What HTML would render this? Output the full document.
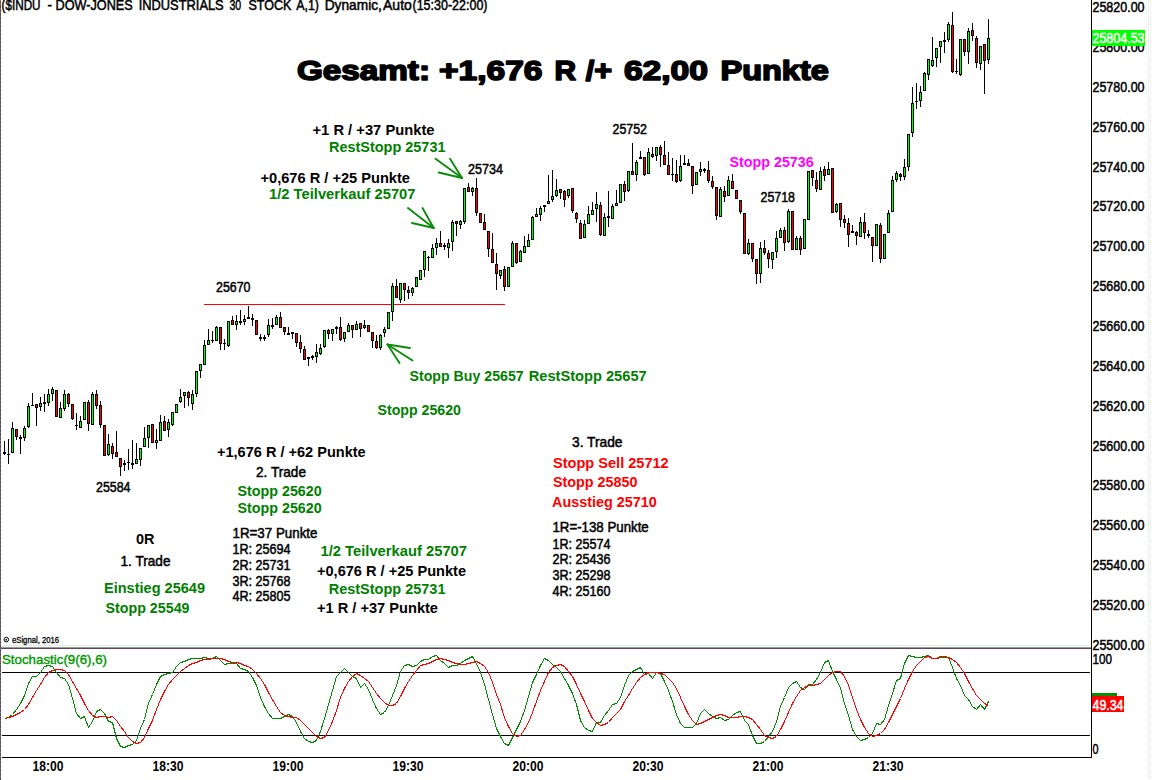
<!DOCTYPE html><html><head><meta charset="utf-8"><title>chart</title><style>
html,body{margin:0;padding:0;background:#fff;}body{width:1152px;height:780px;overflow:hidden;font-family:"Liberation Sans",sans-serif;}svg{display:block;}text{font-family:"Liberation Sans",sans-serif;}.b{font-weight:bold;font-size:15px;}.n{font-size:14.3px;stroke-width:0.5px;}.nb{font-weight:bold;font-size:15.5px;}</style></head><body>
<svg width="1152" height="780" viewBox="0 0 1152 780">
<rect width="1152" height="780" fill="#fff"/>
<g shape-rendering="crispEdges">
<rect x="0" y="0" width="1" height="780" fill="#5c4860"/><line x1="0.5" y1="0" x2="0.5" y2="780" stroke="#6a886a" stroke-width="1" stroke-dasharray="1,3"/>
<rect x="1" y="645" width="1088" height="1" fill="#e6e6e6"/><rect x="1" y="647" width="1090" height="1" fill="#90a090"/><rect x="1" y="648" width="1090" height="1" fill="#5c4460"/>
<rect x="1091" y="0" width="1" height="758" fill="#000"/>
<rect x="2" y="672" width="1088" height="1" fill="#000"/>
<rect x="2" y="735" width="1088" height="1" fill="#000"/>
<rect x="2" y="757" width="1090" height="1" fill="#000"/>
<rect x="204" y="304" width="301" height="1" fill="#ff0000"/>
<line x1="1148.5" y1="0" x2="1148.5" y2="780" stroke="#e2e2e6" stroke-width="1" stroke-dasharray="1,1"/>
<line x1="1150.5" y1="0" x2="1150.5" y2="780" stroke="#e6e6ea" stroke-width="1" stroke-dasharray="1,1"/>
<rect x="4" y="441" width="1" height="14" fill="#000"/>
<rect x="3" y="452" width="3" height="2" fill="#000"/>
<rect x="8" y="439" width="1" height="25" fill="#000"/>
<rect x="7" y="454" width="3" height="1" fill="#000"/>
<rect x="12" y="422" width="1" height="31" fill="#000"/>
<rect x="11" y="428" width="3" height="25" fill="#000"/>
<rect x="12" y="429" width="1" height="23" fill="#00ff00"/>
<rect x="16" y="429" width="1" height="11" fill="#000"/>
<rect x="15" y="429" width="3" height="8" fill="#000"/>
<rect x="16" y="430" width="1" height="6" fill="#ff0000"/>
<rect x="20" y="435" width="1" height="19" fill="#000"/>
<rect x="19" y="437" width="3" height="2" fill="#000"/>
<rect x="24" y="426" width="1" height="15" fill="#000"/>
<rect x="23" y="428" width="3" height="10" fill="#000"/>
<rect x="24" y="429" width="1" height="8" fill="#00ff00"/>
<rect x="28" y="403" width="1" height="25" fill="#000"/>
<rect x="27" y="406" width="3" height="21" fill="#000"/>
<rect x="28" y="407" width="1" height="19" fill="#00ff00"/>
<rect x="32" y="393" width="1" height="13" fill="#000"/>
<rect x="31" y="405" width="3" height="1" fill="#000"/>
<rect x="36" y="404" width="1" height="22" fill="#000"/>
<rect x="35" y="404" width="3" height="4" fill="#000"/>
<rect x="36" y="405" width="1" height="2" fill="#ff0000"/>
<rect x="40" y="397" width="1" height="14" fill="#000"/>
<rect x="39" y="403" width="3" height="4" fill="#000"/>
<rect x="40" y="404" width="1" height="2" fill="#00ff00"/>
<rect x="44" y="394" width="1" height="18" fill="#000"/>
<rect x="43" y="402" width="3" height="2" fill="#000"/>
<rect x="48" y="389" width="1" height="17" fill="#000"/>
<rect x="47" y="394" width="3" height="9" fill="#000"/>
<rect x="48" y="395" width="1" height="7" fill="#00ff00"/>
<rect x="52" y="387" width="1" height="14" fill="#000"/>
<rect x="51" y="389" width="3" height="5" fill="#000"/>
<rect x="52" y="390" width="1" height="3" fill="#00ff00"/>
<rect x="56" y="390" width="1" height="27" fill="#000"/>
<rect x="55" y="390" width="3" height="27" fill="#000"/>
<rect x="56" y="391" width="1" height="25" fill="#ff0000"/>
<rect x="60" y="402" width="1" height="16" fill="#000"/>
<rect x="59" y="408" width="3" height="10" fill="#000"/>
<rect x="60" y="409" width="1" height="8" fill="#00ff00"/>
<rect x="64" y="390" width="1" height="21" fill="#000"/>
<rect x="63" y="394" width="3" height="15" fill="#000"/>
<rect x="64" y="395" width="1" height="13" fill="#00ff00"/>
<rect x="68" y="393" width="1" height="14" fill="#000"/>
<rect x="67" y="394" width="3" height="10" fill="#000"/>
<rect x="68" y="395" width="1" height="8" fill="#ff0000"/>
<rect x="72" y="404" width="1" height="16" fill="#000"/>
<rect x="71" y="404" width="3" height="15" fill="#000"/>
<rect x="72" y="405" width="1" height="13" fill="#ff0000"/>
<rect x="76" y="413" width="1" height="17" fill="#000"/>
<rect x="75" y="425" width="3" height="1" fill="#000"/>
<rect x="80" y="416" width="1" height="12" fill="#000"/>
<rect x="79" y="421" width="3" height="7" fill="#000"/>
<rect x="80" y="422" width="1" height="5" fill="#00ff00"/>
<rect x="84" y="402" width="1" height="18" fill="#000"/>
<rect x="83" y="402" width="3" height="18" fill="#000"/>
<rect x="84" y="403" width="1" height="16" fill="#00ff00"/>
<rect x="88" y="400" width="1" height="31" fill="#000"/>
<rect x="87" y="402" width="3" height="22" fill="#000"/>
<rect x="88" y="403" width="1" height="20" fill="#ff0000"/>
<rect x="92" y="392" width="1" height="33" fill="#000"/>
<rect x="91" y="394" width="3" height="31" fill="#000"/>
<rect x="92" y="395" width="1" height="29" fill="#00ff00"/>
<rect x="96" y="390" width="1" height="19" fill="#000"/>
<rect x="95" y="394" width="3" height="12" fill="#000"/>
<rect x="96" y="395" width="1" height="10" fill="#ff0000"/>
<rect x="100" y="401" width="1" height="27" fill="#000"/>
<rect x="99" y="405" width="3" height="20" fill="#000"/>
<rect x="100" y="406" width="1" height="18" fill="#ff0000"/>
<rect x="104" y="425" width="1" height="31" fill="#000"/>
<rect x="103" y="425" width="3" height="31" fill="#000"/>
<rect x="104" y="426" width="1" height="29" fill="#ff0000"/>
<rect x="108" y="434" width="1" height="22" fill="#000"/>
<rect x="107" y="444" width="3" height="11" fill="#000"/>
<rect x="108" y="445" width="1" height="9" fill="#00ff00"/>
<rect x="112" y="443" width="1" height="16" fill="#000"/>
<rect x="111" y="446" width="3" height="8" fill="#000"/>
<rect x="112" y="447" width="1" height="6" fill="#ff0000"/>
<rect x="116" y="431" width="1" height="26" fill="#000"/>
<rect x="115" y="452" width="3" height="5" fill="#000"/>
<rect x="116" y="453" width="1" height="3" fill="#ff0000"/>
<rect x="120" y="458" width="1" height="18" fill="#000"/>
<rect x="119" y="458" width="3" height="9" fill="#000"/>
<rect x="120" y="459" width="1" height="7" fill="#ff0000"/>
<rect x="124" y="460" width="1" height="11" fill="#000"/>
<rect x="123" y="463" width="3" height="2" fill="#000"/>
<rect x="128" y="449" width="1" height="21" fill="#000"/>
<rect x="127" y="462" width="3" height="1" fill="#000"/>
<rect x="132" y="440" width="1" height="29" fill="#000"/>
<rect x="131" y="463" width="3" height="2" fill="#000"/>
<rect x="136" y="443" width="1" height="21" fill="#000"/>
<rect x="135" y="459" width="3" height="5" fill="#000"/>
<rect x="136" y="460" width="1" height="3" fill="#00ff00"/>
<rect x="140" y="448" width="1" height="18" fill="#000"/>
<rect x="139" y="448" width="3" height="12" fill="#000"/>
<rect x="140" y="449" width="1" height="10" fill="#00ff00"/>
<rect x="144" y="427" width="1" height="20" fill="#000"/>
<rect x="143" y="438" width="3" height="9" fill="#000"/>
<rect x="144" y="439" width="1" height="7" fill="#00ff00"/>
<rect x="148" y="425" width="1" height="23" fill="#000"/>
<rect x="147" y="425" width="3" height="13" fill="#000"/>
<rect x="148" y="426" width="1" height="11" fill="#00ff00"/>
<rect x="152" y="424" width="1" height="19" fill="#000"/>
<rect x="151" y="424" width="3" height="19" fill="#000"/>
<rect x="152" y="425" width="1" height="17" fill="#ff0000"/>
<rect x="156" y="429" width="1" height="20" fill="#000"/>
<rect x="155" y="440" width="3" height="3" fill="#000"/>
<rect x="156" y="441" width="1" height="1" fill="#00ff00"/>
<rect x="160" y="415" width="1" height="26" fill="#000"/>
<rect x="159" y="422" width="3" height="19" fill="#000"/>
<rect x="160" y="423" width="1" height="17" fill="#00ff00"/>
<rect x="164" y="416" width="1" height="15" fill="#000"/>
<rect x="163" y="421" width="3" height="10" fill="#000"/>
<rect x="164" y="422" width="1" height="8" fill="#ff0000"/>
<rect x="168" y="419" width="1" height="18" fill="#000"/>
<rect x="167" y="422" width="3" height="8" fill="#000"/>
<rect x="168" y="423" width="1" height="6" fill="#00ff00"/>
<rect x="172" y="412" width="1" height="14" fill="#000"/>
<rect x="171" y="412" width="3" height="13" fill="#000"/>
<rect x="172" y="413" width="1" height="11" fill="#00ff00"/>
<rect x="176" y="404" width="1" height="9" fill="#000"/>
<rect x="175" y="404" width="3" height="9" fill="#000"/>
<rect x="176" y="405" width="1" height="7" fill="#00ff00"/>
<rect x="180" y="389" width="1" height="14" fill="#000"/>
<rect x="179" y="397" width="3" height="5" fill="#000"/>
<rect x="180" y="398" width="1" height="3" fill="#00ff00"/>
<rect x="184" y="392" width="1" height="16" fill="#000"/>
<rect x="183" y="392" width="3" height="4" fill="#000"/>
<rect x="184" y="393" width="1" height="2" fill="#00ff00"/>
<rect x="188" y="391" width="1" height="15" fill="#000"/>
<rect x="187" y="392" width="3" height="6" fill="#000"/>
<rect x="188" y="393" width="1" height="4" fill="#ff0000"/>
<rect x="192" y="390" width="1" height="20" fill="#000"/>
<rect x="191" y="394" width="3" height="10" fill="#000"/>
<rect x="192" y="395" width="1" height="8" fill="#00ff00"/>
<rect x="196" y="371" width="1" height="26" fill="#000"/>
<rect x="195" y="371" width="3" height="23" fill="#000"/>
<rect x="196" y="372" width="1" height="21" fill="#00ff00"/>
<rect x="200" y="364" width="1" height="14" fill="#000"/>
<rect x="199" y="364" width="3" height="7" fill="#000"/>
<rect x="200" y="365" width="1" height="5" fill="#00ff00"/>
<rect x="204" y="340" width="1" height="25" fill="#000"/>
<rect x="203" y="345" width="3" height="20" fill="#000"/>
<rect x="204" y="346" width="1" height="18" fill="#00ff00"/>
<rect x="208" y="329" width="1" height="16" fill="#000"/>
<rect x="207" y="340" width="3" height="5" fill="#000"/>
<rect x="208" y="341" width="1" height="3" fill="#00ff00"/>
<rect x="212" y="331" width="1" height="12" fill="#000"/>
<rect x="211" y="340" width="3" height="1" fill="#000"/>
<rect x="216" y="326" width="1" height="15" fill="#000"/>
<rect x="215" y="327" width="3" height="14" fill="#000"/>
<rect x="216" y="328" width="1" height="12" fill="#00ff00"/>
<rect x="220" y="327" width="1" height="23" fill="#000"/>
<rect x="219" y="327" width="3" height="17" fill="#000"/>
<rect x="220" y="328" width="1" height="15" fill="#ff0000"/>
<rect x="224" y="339" width="1" height="11" fill="#000"/>
<rect x="223" y="343" width="3" height="1" fill="#000"/>
<rect x="228" y="321" width="1" height="26" fill="#000"/>
<rect x="227" y="321" width="3" height="25" fill="#000"/>
<rect x="228" y="322" width="1" height="23" fill="#00ff00"/>
<rect x="232" y="316" width="1" height="9" fill="#000"/>
<rect x="231" y="320" width="3" height="5" fill="#000"/>
<rect x="232" y="321" width="1" height="3" fill="#ff0000"/>
<rect x="236" y="315" width="1" height="15" fill="#000"/>
<rect x="235" y="321" width="3" height="4" fill="#000"/>
<rect x="236" y="322" width="1" height="2" fill="#00ff00"/>
<rect x="240" y="310" width="1" height="15" fill="#000"/>
<rect x="239" y="321" width="3" height="2" fill="#000"/>
<rect x="244" y="315" width="1" height="10" fill="#000"/>
<rect x="243" y="319" width="3" height="3" fill="#000"/>
<rect x="244" y="320" width="1" height="1" fill="#00ff00"/>
<rect x="248" y="306" width="1" height="13" fill="#000"/>
<rect x="247" y="317" width="3" height="2" fill="#000"/>
<rect x="252" y="314" width="1" height="12" fill="#000"/>
<rect x="251" y="318" width="3" height="2" fill="#000"/>
<rect x="256" y="320" width="1" height="15" fill="#000"/>
<rect x="255" y="320" width="3" height="15" fill="#000"/>
<rect x="256" y="321" width="1" height="13" fill="#ff0000"/>
<rect x="260" y="334" width="1" height="7" fill="#000"/>
<rect x="259" y="337" width="3" height="2" fill="#000"/>
<rect x="264" y="335" width="1" height="6" fill="#000"/>
<rect x="263" y="337" width="3" height="2" fill="#000"/>
<rect x="268" y="319" width="1" height="18" fill="#000"/>
<rect x="267" y="325" width="3" height="10" fill="#000"/>
<rect x="268" y="326" width="1" height="8" fill="#00ff00"/>
<rect x="272" y="318" width="1" height="11" fill="#000"/>
<rect x="271" y="325" width="3" height="2" fill="#000"/>
<rect x="276" y="315" width="1" height="10" fill="#000"/>
<rect x="275" y="317" width="3" height="8" fill="#000"/>
<rect x="276" y="318" width="1" height="6" fill="#00ff00"/>
<rect x="280" y="312" width="1" height="16" fill="#000"/>
<rect x="279" y="317" width="3" height="11" fill="#000"/>
<rect x="280" y="318" width="1" height="9" fill="#ff0000"/>
<rect x="284" y="327" width="1" height="8" fill="#000"/>
<rect x="283" y="327" width="3" height="5" fill="#000"/>
<rect x="284" y="328" width="1" height="3" fill="#ff0000"/>
<rect x="288" y="327" width="1" height="8" fill="#000"/>
<rect x="287" y="333" width="3" height="2" fill="#000"/>
<rect x="292" y="332" width="1" height="7" fill="#000"/>
<rect x="291" y="332" width="3" height="2" fill="#000"/>
<rect x="296" y="333" width="1" height="14" fill="#000"/>
<rect x="295" y="333" width="3" height="10" fill="#000"/>
<rect x="296" y="334" width="1" height="8" fill="#ff0000"/>
<rect x="300" y="335" width="1" height="18" fill="#000"/>
<rect x="299" y="342" width="3" height="7" fill="#000"/>
<rect x="300" y="343" width="1" height="5" fill="#ff0000"/>
<rect x="304" y="346" width="1" height="14" fill="#000"/>
<rect x="303" y="349" width="3" height="11" fill="#000"/>
<rect x="304" y="350" width="1" height="9" fill="#ff0000"/>
<rect x="308" y="357" width="1" height="9" fill="#000"/>
<rect x="307" y="357" width="3" height="2" fill="#000"/>
<rect x="312" y="355" width="1" height="5" fill="#000"/>
<rect x="311" y="356" width="3" height="2" fill="#000"/>
<rect x="316" y="344" width="1" height="19" fill="#000"/>
<rect x="315" y="352" width="3" height="5" fill="#000"/>
<rect x="316" y="353" width="1" height="3" fill="#00ff00"/>
<rect x="320" y="344" width="1" height="11" fill="#000"/>
<rect x="319" y="348" width="3" height="6" fill="#000"/>
<rect x="320" y="349" width="1" height="4" fill="#00ff00"/>
<rect x="324" y="330" width="1" height="18" fill="#000"/>
<rect x="323" y="330" width="3" height="17" fill="#000"/>
<rect x="324" y="331" width="1" height="15" fill="#00ff00"/>
<rect x="328" y="329" width="1" height="10" fill="#000"/>
<rect x="327" y="330" width="3" height="4" fill="#000"/>
<rect x="328" y="331" width="1" height="2" fill="#ff0000"/>
<rect x="332" y="329" width="1" height="12" fill="#000"/>
<rect x="331" y="329" width="3" height="5" fill="#000"/>
<rect x="332" y="330" width="1" height="3" fill="#00ff00"/>
<rect x="336" y="326" width="1" height="8" fill="#000"/>
<rect x="335" y="327" width="3" height="2" fill="#000"/>
<rect x="340" y="317" width="1" height="24" fill="#000"/>
<rect x="339" y="327" width="3" height="13" fill="#000"/>
<rect x="340" y="328" width="1" height="11" fill="#ff0000"/>
<rect x="344" y="332" width="1" height="10" fill="#000"/>
<rect x="343" y="332" width="3" height="7" fill="#000"/>
<rect x="344" y="333" width="1" height="5" fill="#00ff00"/>
<rect x="348" y="323" width="1" height="9" fill="#000"/>
<rect x="347" y="325" width="3" height="7" fill="#000"/>
<rect x="348" y="326" width="1" height="5" fill="#00ff00"/>
<rect x="352" y="325" width="1" height="13" fill="#000"/>
<rect x="351" y="325" width="3" height="5" fill="#000"/>
<rect x="352" y="326" width="1" height="3" fill="#ff0000"/>
<rect x="356" y="321" width="1" height="9" fill="#000"/>
<rect x="355" y="324" width="3" height="6" fill="#000"/>
<rect x="356" y="325" width="1" height="4" fill="#00ff00"/>
<rect x="360" y="323" width="1" height="14" fill="#000"/>
<rect x="359" y="323" width="3" height="6" fill="#000"/>
<rect x="360" y="324" width="1" height="4" fill="#ff0000"/>
<rect x="364" y="320" width="1" height="9" fill="#000"/>
<rect x="363" y="325" width="3" height="3" fill="#000"/>
<rect x="364" y="326" width="1" height="1" fill="#00ff00"/>
<rect x="368" y="325" width="1" height="7" fill="#000"/>
<rect x="367" y="325" width="3" height="7" fill="#000"/>
<rect x="368" y="326" width="1" height="5" fill="#ff0000"/>
<rect x="372" y="332" width="1" height="16" fill="#000"/>
<rect x="371" y="332" width="3" height="9" fill="#000"/>
<rect x="372" y="333" width="1" height="7" fill="#ff0000"/>
<rect x="376" y="335" width="1" height="14" fill="#000"/>
<rect x="375" y="341" width="3" height="7" fill="#000"/>
<rect x="376" y="342" width="1" height="5" fill="#ff0000"/>
<rect x="380" y="334" width="1" height="16" fill="#000"/>
<rect x="379" y="335" width="3" height="13" fill="#000"/>
<rect x="380" y="336" width="1" height="11" fill="#00ff00"/>
<rect x="384" y="327" width="1" height="10" fill="#000"/>
<rect x="383" y="329" width="3" height="4" fill="#000"/>
<rect x="384" y="330" width="1" height="2" fill="#00ff00"/>
<rect x="388" y="312" width="1" height="17" fill="#000"/>
<rect x="387" y="312" width="3" height="17" fill="#000"/>
<rect x="388" y="313" width="1" height="15" fill="#00ff00"/>
<rect x="392" y="283" width="1" height="38" fill="#000"/>
<rect x="391" y="286" width="3" height="26" fill="#000"/>
<rect x="392" y="287" width="1" height="24" fill="#00ff00"/>
<rect x="396" y="279" width="1" height="19" fill="#000"/>
<rect x="395" y="286" width="3" height="12" fill="#000"/>
<rect x="396" y="287" width="1" height="10" fill="#ff0000"/>
<rect x="400" y="283" width="1" height="20" fill="#000"/>
<rect x="399" y="283" width="3" height="17" fill="#000"/>
<rect x="400" y="284" width="1" height="15" fill="#00ff00"/>
<rect x="404" y="283" width="1" height="18" fill="#000"/>
<rect x="403" y="283" width="3" height="7" fill="#000"/>
<rect x="404" y="284" width="1" height="5" fill="#ff0000"/>
<rect x="408" y="286" width="1" height="13" fill="#000"/>
<rect x="407" y="290" width="3" height="3" fill="#000"/>
<rect x="408" y="291" width="1" height="1" fill="#ff0000"/>
<rect x="412" y="287" width="1" height="9" fill="#000"/>
<rect x="411" y="288" width="3" height="5" fill="#000"/>
<rect x="412" y="289" width="1" height="3" fill="#00ff00"/>
<rect x="416" y="277" width="1" height="10" fill="#000"/>
<rect x="415" y="277" width="3" height="10" fill="#000"/>
<rect x="416" y="278" width="1" height="8" fill="#00ff00"/>
<rect x="420" y="270" width="1" height="10" fill="#000"/>
<rect x="419" y="270" width="3" height="10" fill="#000"/>
<rect x="420" y="271" width="1" height="8" fill="#00ff00"/>
<rect x="424" y="251" width="1" height="26" fill="#000"/>
<rect x="423" y="251" width="3" height="19" fill="#000"/>
<rect x="424" y="252" width="1" height="17" fill="#00ff00"/>
<rect x="428" y="256" width="1" height="15" fill="#000"/>
<rect x="427" y="257" width="3" height="1" fill="#000"/>
<rect x="432" y="244" width="1" height="14" fill="#000"/>
<rect x="431" y="248" width="3" height="10" fill="#000"/>
<rect x="432" y="249" width="1" height="8" fill="#00ff00"/>
<rect x="436" y="238" width="1" height="17" fill="#000"/>
<rect x="435" y="243" width="3" height="5" fill="#000"/>
<rect x="436" y="244" width="1" height="3" fill="#00ff00"/>
<rect x="440" y="231" width="1" height="16" fill="#000"/>
<rect x="439" y="243" width="3" height="4" fill="#000"/>
<rect x="440" y="244" width="1" height="2" fill="#ff0000"/>
<rect x="444" y="243" width="1" height="7" fill="#000"/>
<rect x="443" y="245" width="3" height="2" fill="#000"/>
<rect x="448" y="239" width="1" height="19" fill="#000"/>
<rect x="447" y="243" width="3" height="5" fill="#000"/>
<rect x="448" y="244" width="1" height="3" fill="#00ff00"/>
<rect x="452" y="220" width="1" height="31" fill="#000"/>
<rect x="451" y="222" width="3" height="20" fill="#000"/>
<rect x="452" y="223" width="1" height="18" fill="#00ff00"/>
<rect x="456" y="221" width="1" height="15" fill="#000"/>
<rect x="455" y="221" width="3" height="3" fill="#000"/>
<rect x="456" y="222" width="1" height="1" fill="#ff0000"/>
<rect x="460" y="220" width="1" height="9" fill="#000"/>
<rect x="459" y="221" width="3" height="4" fill="#000"/>
<rect x="460" y="222" width="1" height="2" fill="#00ff00"/>
<rect x="464" y="188" width="1" height="36" fill="#000"/>
<rect x="463" y="188" width="3" height="34" fill="#000"/>
<rect x="464" y="189" width="1" height="32" fill="#00ff00"/>
<rect x="468" y="183" width="1" height="9" fill="#000"/>
<rect x="467" y="187" width="3" height="5" fill="#000"/>
<rect x="468" y="188" width="1" height="3" fill="#ff0000"/>
<rect x="472" y="187" width="1" height="9" fill="#000"/>
<rect x="471" y="188" width="3" height="4" fill="#000"/>
<rect x="472" y="189" width="1" height="2" fill="#00ff00"/>
<rect x="476" y="178" width="1" height="38" fill="#000"/>
<rect x="475" y="188" width="3" height="25" fill="#000"/>
<rect x="476" y="189" width="1" height="23" fill="#ff0000"/>
<rect x="480" y="213" width="1" height="10" fill="#000"/>
<rect x="479" y="213" width="3" height="10" fill="#000"/>
<rect x="480" y="214" width="1" height="8" fill="#ff0000"/>
<rect x="484" y="214" width="1" height="16" fill="#000"/>
<rect x="483" y="222" width="3" height="8" fill="#000"/>
<rect x="484" y="223" width="1" height="6" fill="#ff0000"/>
<rect x="488" y="231" width="1" height="26" fill="#000"/>
<rect x="487" y="231" width="3" height="18" fill="#000"/>
<rect x="488" y="232" width="1" height="16" fill="#ff0000"/>
<rect x="492" y="233" width="1" height="30" fill="#000"/>
<rect x="491" y="249" width="3" height="14" fill="#000"/>
<rect x="492" y="250" width="1" height="12" fill="#ff0000"/>
<rect x="496" y="253" width="1" height="37" fill="#000"/>
<rect x="495" y="264" width="3" height="10" fill="#000"/>
<rect x="496" y="265" width="1" height="8" fill="#ff0000"/>
<rect x="500" y="270" width="1" height="9" fill="#000"/>
<rect x="499" y="270" width="3" height="6" fill="#000"/>
<rect x="500" y="271" width="1" height="4" fill="#00ff00"/>
<rect x="504" y="266" width="1" height="25" fill="#000"/>
<rect x="503" y="269" width="3" height="18" fill="#000"/>
<rect x="504" y="270" width="1" height="16" fill="#ff0000"/>
<rect x="508" y="267" width="1" height="20" fill="#000"/>
<rect x="507" y="267" width="3" height="20" fill="#000"/>
<rect x="508" y="268" width="1" height="18" fill="#00ff00"/>
<rect x="512" y="241" width="1" height="26" fill="#000"/>
<rect x="511" y="243" width="3" height="24" fill="#000"/>
<rect x="512" y="244" width="1" height="22" fill="#00ff00"/>
<rect x="516" y="243" width="1" height="21" fill="#000"/>
<rect x="515" y="243" width="3" height="20" fill="#000"/>
<rect x="516" y="244" width="1" height="18" fill="#ff0000"/>
<rect x="520" y="250" width="1" height="12" fill="#000"/>
<rect x="519" y="251" width="3" height="11" fill="#000"/>
<rect x="520" y="252" width="1" height="9" fill="#00ff00"/>
<rect x="524" y="236" width="1" height="17" fill="#000"/>
<rect x="523" y="246" width="3" height="7" fill="#000"/>
<rect x="524" y="247" width="1" height="5" fill="#00ff00"/>
<rect x="528" y="234" width="1" height="13" fill="#000"/>
<rect x="527" y="240" width="3" height="7" fill="#000"/>
<rect x="528" y="241" width="1" height="5" fill="#00ff00"/>
<rect x="532" y="216" width="1" height="24" fill="#000"/>
<rect x="531" y="217" width="3" height="23" fill="#000"/>
<rect x="532" y="218" width="1" height="21" fill="#00ff00"/>
<rect x="536" y="208" width="1" height="9" fill="#000"/>
<rect x="535" y="214" width="3" height="3" fill="#000"/>
<rect x="536" y="215" width="1" height="1" fill="#00ff00"/>
<rect x="540" y="206" width="1" height="15" fill="#000"/>
<rect x="539" y="208" width="3" height="7" fill="#000"/>
<rect x="540" y="209" width="1" height="5" fill="#00ff00"/>
<rect x="544" y="205" width="1" height="7" fill="#000"/>
<rect x="543" y="205" width="3" height="2" fill="#000"/>
<rect x="548" y="175" width="1" height="29" fill="#000"/>
<rect x="547" y="201" width="3" height="3" fill="#000"/>
<rect x="548" y="202" width="1" height="1" fill="#00ff00"/>
<rect x="552" y="170" width="1" height="32" fill="#000"/>
<rect x="551" y="196" width="3" height="4" fill="#000"/>
<rect x="552" y="197" width="1" height="2" fill="#00ff00"/>
<rect x="556" y="179" width="1" height="18" fill="#000"/>
<rect x="555" y="190" width="3" height="6" fill="#000"/>
<rect x="556" y="191" width="1" height="4" fill="#00ff00"/>
<rect x="560" y="189" width="1" height="10" fill="#000"/>
<rect x="559" y="189" width="3" height="4" fill="#000"/>
<rect x="560" y="190" width="1" height="2" fill="#ff0000"/>
<rect x="564" y="190" width="1" height="17" fill="#000"/>
<rect x="563" y="191" width="3" height="9" fill="#000"/>
<rect x="564" y="192" width="1" height="7" fill="#ff0000"/>
<rect x="568" y="189" width="1" height="9" fill="#000"/>
<rect x="567" y="189" width="3" height="7" fill="#000"/>
<rect x="568" y="190" width="1" height="5" fill="#00ff00"/>
<rect x="572" y="188" width="1" height="25" fill="#000"/>
<rect x="571" y="188" width="3" height="23" fill="#000"/>
<rect x="572" y="189" width="1" height="21" fill="#ff0000"/>
<rect x="576" y="212" width="1" height="11" fill="#000"/>
<rect x="575" y="213" width="3" height="6" fill="#000"/>
<rect x="576" y="214" width="1" height="4" fill="#ff0000"/>
<rect x="580" y="220" width="1" height="19" fill="#000"/>
<rect x="579" y="223" width="3" height="16" fill="#000"/>
<rect x="580" y="224" width="1" height="14" fill="#ff0000"/>
<rect x="584" y="220" width="1" height="18" fill="#000"/>
<rect x="583" y="224" width="3" height="14" fill="#000"/>
<rect x="584" y="225" width="1" height="12" fill="#00ff00"/>
<rect x="588" y="206" width="1" height="18" fill="#000"/>
<rect x="587" y="214" width="3" height="10" fill="#000"/>
<rect x="588" y="215" width="1" height="8" fill="#00ff00"/>
<rect x="592" y="202" width="1" height="13" fill="#000"/>
<rect x="591" y="210" width="3" height="5" fill="#000"/>
<rect x="592" y="211" width="1" height="3" fill="#00ff00"/>
<rect x="596" y="192" width="1" height="30" fill="#000"/>
<rect x="595" y="204" width="3" height="5" fill="#000"/>
<rect x="596" y="205" width="1" height="3" fill="#00ff00"/>
<rect x="600" y="202" width="1" height="34" fill="#000"/>
<rect x="599" y="205" width="3" height="30" fill="#000"/>
<rect x="600" y="206" width="1" height="28" fill="#ff0000"/>
<rect x="604" y="213" width="1" height="23" fill="#000"/>
<rect x="603" y="217" width="3" height="19" fill="#000"/>
<rect x="604" y="218" width="1" height="17" fill="#00ff00"/>
<rect x="608" y="191" width="1" height="36" fill="#000"/>
<rect x="607" y="216" width="3" height="2" fill="#000"/>
<rect x="612" y="204" width="1" height="15" fill="#000"/>
<rect x="611" y="206" width="3" height="13" fill="#000"/>
<rect x="612" y="207" width="1" height="11" fill="#00ff00"/>
<rect x="616" y="190" width="1" height="16" fill="#000"/>
<rect x="615" y="203" width="3" height="3" fill="#000"/>
<rect x="616" y="204" width="1" height="1" fill="#00ff00"/>
<rect x="620" y="184" width="1" height="19" fill="#000"/>
<rect x="619" y="184" width="3" height="19" fill="#000"/>
<rect x="620" y="185" width="1" height="17" fill="#00ff00"/>
<rect x="624" y="181" width="1" height="20" fill="#000"/>
<rect x="623" y="184" width="3" height="8" fill="#000"/>
<rect x="624" y="185" width="1" height="6" fill="#ff0000"/>
<rect x="628" y="171" width="1" height="21" fill="#000"/>
<rect x="627" y="171" width="3" height="20" fill="#000"/>
<rect x="628" y="172" width="1" height="18" fill="#00ff00"/>
<rect x="632" y="143" width="1" height="32" fill="#000"/>
<rect x="631" y="171" width="3" height="4" fill="#000"/>
<rect x="632" y="172" width="1" height="2" fill="#ff0000"/>
<rect x="636" y="160" width="1" height="21" fill="#000"/>
<rect x="635" y="162" width="3" height="13" fill="#000"/>
<rect x="636" y="163" width="1" height="11" fill="#00ff00"/>
<rect x="640" y="151" width="1" height="8" fill="#000"/>
<rect x="639" y="157" width="3" height="2" fill="#000"/>
<rect x="644" y="157" width="1" height="19" fill="#000"/>
<rect x="643" y="157" width="3" height="18" fill="#000"/>
<rect x="644" y="158" width="1" height="16" fill="#ff0000"/>
<rect x="648" y="148" width="1" height="26" fill="#000"/>
<rect x="647" y="152" width="3" height="22" fill="#000"/>
<rect x="648" y="153" width="1" height="20" fill="#00ff00"/>
<rect x="652" y="147" width="1" height="11" fill="#000"/>
<rect x="651" y="154" width="3" height="3" fill="#000"/>
<rect x="652" y="155" width="1" height="1" fill="#ff0000"/>
<rect x="656" y="147" width="1" height="14" fill="#000"/>
<rect x="655" y="147" width="3" height="9" fill="#000"/>
<rect x="656" y="148" width="1" height="7" fill="#00ff00"/>
<rect x="660" y="145" width="1" height="22" fill="#000"/>
<rect x="659" y="147" width="3" height="8" fill="#000"/>
<rect x="660" y="148" width="1" height="6" fill="#ff0000"/>
<rect x="664" y="141" width="1" height="24" fill="#000"/>
<rect x="663" y="155" width="3" height="10" fill="#000"/>
<rect x="664" y="156" width="1" height="8" fill="#ff0000"/>
<rect x="668" y="152" width="1" height="23" fill="#000"/>
<rect x="667" y="165" width="3" height="10" fill="#000"/>
<rect x="668" y="166" width="1" height="8" fill="#ff0000"/>
<rect x="672" y="158" width="1" height="23" fill="#000"/>
<rect x="671" y="174" width="3" height="1" fill="#000"/>
<rect x="676" y="160" width="1" height="23" fill="#000"/>
<rect x="675" y="174" width="3" height="8" fill="#000"/>
<rect x="676" y="175" width="1" height="6" fill="#ff0000"/>
<rect x="680" y="155" width="1" height="27" fill="#000"/>
<rect x="679" y="166" width="3" height="15" fill="#000"/>
<rect x="680" y="167" width="1" height="13" fill="#00ff00"/>
<rect x="684" y="155" width="1" height="10" fill="#000"/>
<rect x="683" y="163" width="3" height="2" fill="#000"/>
<rect x="688" y="159" width="1" height="7" fill="#000"/>
<rect x="687" y="163" width="3" height="3" fill="#000"/>
<rect x="688" y="164" width="1" height="1" fill="#ff0000"/>
<rect x="692" y="166" width="1" height="28" fill="#000"/>
<rect x="691" y="166" width="3" height="20" fill="#000"/>
<rect x="692" y="167" width="1" height="18" fill="#ff0000"/>
<rect x="696" y="172" width="1" height="13" fill="#000"/>
<rect x="695" y="172" width="3" height="13" fill="#000"/>
<rect x="696" y="173" width="1" height="11" fill="#00ff00"/>
<rect x="700" y="162" width="1" height="14" fill="#000"/>
<rect x="699" y="169" width="3" height="3" fill="#000"/>
<rect x="700" y="170" width="1" height="1" fill="#00ff00"/>
<rect x="704" y="168" width="1" height="5" fill="#000"/>
<rect x="703" y="169" width="3" height="2" fill="#000"/>
<rect x="708" y="161" width="1" height="22" fill="#000"/>
<rect x="707" y="170" width="3" height="11" fill="#000"/>
<rect x="708" y="171" width="1" height="9" fill="#ff0000"/>
<rect x="712" y="176" width="1" height="13" fill="#000"/>
<rect x="711" y="181" width="3" height="6" fill="#000"/>
<rect x="712" y="182" width="1" height="4" fill="#ff0000"/>
<rect x="716" y="187" width="1" height="33" fill="#000"/>
<rect x="715" y="187" width="3" height="29" fill="#000"/>
<rect x="716" y="188" width="1" height="27" fill="#ff0000"/>
<rect x="720" y="187" width="1" height="30" fill="#000"/>
<rect x="719" y="189" width="3" height="28" fill="#000"/>
<rect x="720" y="190" width="1" height="26" fill="#00ff00"/>
<rect x="724" y="186" width="1" height="16" fill="#000"/>
<rect x="723" y="191" width="3" height="6" fill="#000"/>
<rect x="724" y="192" width="1" height="4" fill="#ff0000"/>
<rect x="728" y="176" width="1" height="20" fill="#000"/>
<rect x="727" y="180" width="3" height="16" fill="#000"/>
<rect x="728" y="181" width="1" height="14" fill="#00ff00"/>
<rect x="732" y="174" width="1" height="15" fill="#000"/>
<rect x="731" y="181" width="3" height="8" fill="#000"/>
<rect x="732" y="182" width="1" height="6" fill="#ff0000"/>
<rect x="736" y="190" width="1" height="9" fill="#000"/>
<rect x="735" y="190" width="3" height="9" fill="#000"/>
<rect x="736" y="191" width="1" height="7" fill="#ff0000"/>
<rect x="740" y="200" width="1" height="14" fill="#000"/>
<rect x="739" y="200" width="3" height="12" fill="#000"/>
<rect x="740" y="201" width="1" height="10" fill="#ff0000"/>
<rect x="744" y="213" width="1" height="41" fill="#000"/>
<rect x="743" y="213" width="3" height="41" fill="#000"/>
<rect x="744" y="214" width="1" height="39" fill="#ff0000"/>
<rect x="748" y="239" width="1" height="16" fill="#000"/>
<rect x="747" y="243" width="3" height="11" fill="#000"/>
<rect x="748" y="244" width="1" height="9" fill="#00ff00"/>
<rect x="752" y="243" width="1" height="19" fill="#000"/>
<rect x="751" y="243" width="3" height="16" fill="#000"/>
<rect x="752" y="244" width="1" height="14" fill="#ff0000"/>
<rect x="756" y="259" width="1" height="25" fill="#000"/>
<rect x="755" y="259" width="3" height="15" fill="#000"/>
<rect x="756" y="260" width="1" height="13" fill="#ff0000"/>
<rect x="760" y="242" width="1" height="41" fill="#000"/>
<rect x="759" y="248" width="3" height="26" fill="#000"/>
<rect x="760" y="249" width="1" height="24" fill="#00ff00"/>
<rect x="764" y="240" width="1" height="15" fill="#000"/>
<rect x="763" y="248" width="3" height="5" fill="#000"/>
<rect x="764" y="249" width="1" height="3" fill="#ff0000"/>
<rect x="768" y="250" width="1" height="18" fill="#000"/>
<rect x="767" y="253" width="3" height="6" fill="#000"/>
<rect x="768" y="254" width="1" height="4" fill="#ff0000"/>
<rect x="772" y="252" width="1" height="17" fill="#000"/>
<rect x="771" y="252" width="3" height="8" fill="#000"/>
<rect x="772" y="253" width="1" height="6" fill="#00ff00"/>
<rect x="776" y="231" width="1" height="27" fill="#000"/>
<rect x="775" y="238" width="3" height="14" fill="#000"/>
<rect x="776" y="239" width="1" height="12" fill="#00ff00"/>
<rect x="780" y="228" width="1" height="10" fill="#000"/>
<rect x="779" y="230" width="3" height="8" fill="#000"/>
<rect x="780" y="231" width="1" height="6" fill="#00ff00"/>
<rect x="784" y="227" width="1" height="24" fill="#000"/>
<rect x="783" y="230" width="3" height="13" fill="#000"/>
<rect x="784" y="231" width="1" height="11" fill="#ff0000"/>
<rect x="788" y="209" width="1" height="34" fill="#000"/>
<rect x="787" y="211" width="3" height="31" fill="#000"/>
<rect x="788" y="212" width="1" height="29" fill="#00ff00"/>
<rect x="792" y="211" width="1" height="39" fill="#000"/>
<rect x="791" y="211" width="3" height="39" fill="#000"/>
<rect x="792" y="212" width="1" height="37" fill="#ff0000"/>
<rect x="796" y="236" width="1" height="14" fill="#000"/>
<rect x="795" y="238" width="3" height="12" fill="#000"/>
<rect x="796" y="239" width="1" height="10" fill="#00ff00"/>
<rect x="800" y="236" width="1" height="19" fill="#000"/>
<rect x="799" y="238" width="3" height="12" fill="#000"/>
<rect x="800" y="239" width="1" height="10" fill="#ff0000"/>
<rect x="804" y="219" width="1" height="30" fill="#000"/>
<rect x="803" y="219" width="3" height="30" fill="#000"/>
<rect x="804" y="220" width="1" height="28" fill="#00ff00"/>
<rect x="808" y="171" width="1" height="49" fill="#000"/>
<rect x="807" y="171" width="3" height="49" fill="#000"/>
<rect x="808" y="172" width="1" height="47" fill="#00ff00"/>
<rect x="812" y="170" width="1" height="16" fill="#000"/>
<rect x="811" y="170" width="3" height="8" fill="#000"/>
<rect x="812" y="171" width="1" height="6" fill="#ff0000"/>
<rect x="816" y="172" width="1" height="20" fill="#000"/>
<rect x="815" y="180" width="3" height="9" fill="#000"/>
<rect x="816" y="181" width="1" height="7" fill="#ff0000"/>
<rect x="820" y="167" width="1" height="23" fill="#000"/>
<rect x="819" y="171" width="3" height="19" fill="#000"/>
<rect x="820" y="172" width="1" height="17" fill="#00ff00"/>
<rect x="824" y="166" width="1" height="15" fill="#000"/>
<rect x="823" y="169" width="3" height="7" fill="#000"/>
<rect x="824" y="170" width="1" height="5" fill="#ff0000"/>
<rect x="828" y="162" width="1" height="13" fill="#000"/>
<rect x="827" y="169" width="3" height="6" fill="#000"/>
<rect x="828" y="170" width="1" height="4" fill="#00ff00"/>
<rect x="832" y="168" width="1" height="45" fill="#000"/>
<rect x="831" y="168" width="3" height="45" fill="#000"/>
<rect x="832" y="169" width="1" height="43" fill="#ff0000"/>
<rect x="836" y="203" width="1" height="10" fill="#000"/>
<rect x="835" y="204" width="3" height="8" fill="#000"/>
<rect x="836" y="205" width="1" height="6" fill="#00ff00"/>
<rect x="840" y="203" width="1" height="24" fill="#000"/>
<rect x="839" y="203" width="3" height="17" fill="#000"/>
<rect x="840" y="204" width="1" height="15" fill="#ff0000"/>
<rect x="844" y="215" width="1" height="13" fill="#000"/>
<rect x="843" y="219" width="3" height="4" fill="#000"/>
<rect x="844" y="220" width="1" height="2" fill="#ff0000"/>
<rect x="848" y="218" width="1" height="29" fill="#000"/>
<rect x="847" y="223" width="3" height="12" fill="#000"/>
<rect x="848" y="224" width="1" height="10" fill="#ff0000"/>
<rect x="852" y="225" width="1" height="8" fill="#000"/>
<rect x="851" y="231" width="3" height="2" fill="#000"/>
<rect x="856" y="231" width="1" height="14" fill="#000"/>
<rect x="855" y="232" width="3" height="4" fill="#000"/>
<rect x="856" y="233" width="1" height="2" fill="#ff0000"/>
<rect x="860" y="217" width="1" height="20" fill="#000"/>
<rect x="859" y="222" width="3" height="15" fill="#000"/>
<rect x="860" y="223" width="1" height="13" fill="#00ff00"/>
<rect x="864" y="213" width="1" height="26" fill="#000"/>
<rect x="863" y="222" width="3" height="11" fill="#000"/>
<rect x="864" y="223" width="1" height="9" fill="#ff0000"/>
<rect x="868" y="230" width="1" height="8" fill="#000"/>
<rect x="867" y="234" width="3" height="2" fill="#000"/>
<rect x="872" y="237" width="1" height="25" fill="#000"/>
<rect x="871" y="237" width="3" height="9" fill="#000"/>
<rect x="872" y="238" width="1" height="7" fill="#ff0000"/>
<rect x="876" y="224" width="1" height="22" fill="#000"/>
<rect x="875" y="224" width="3" height="22" fill="#000"/>
<rect x="876" y="225" width="1" height="20" fill="#00ff00"/>
<rect x="880" y="223" width="1" height="40" fill="#000"/>
<rect x="879" y="225" width="3" height="34" fill="#000"/>
<rect x="880" y="226" width="1" height="32" fill="#ff0000"/>
<rect x="884" y="234" width="1" height="25" fill="#000"/>
<rect x="883" y="234" width="3" height="25" fill="#000"/>
<rect x="884" y="235" width="1" height="23" fill="#00ff00"/>
<rect x="888" y="210" width="1" height="23" fill="#000"/>
<rect x="887" y="213" width="3" height="20" fill="#000"/>
<rect x="888" y="214" width="1" height="18" fill="#00ff00"/>
<rect x="892" y="176" width="1" height="36" fill="#000"/>
<rect x="891" y="180" width="3" height="32" fill="#000"/>
<rect x="892" y="181" width="1" height="30" fill="#00ff00"/>
<rect x="896" y="171" width="1" height="11" fill="#000"/>
<rect x="895" y="173" width="3" height="7" fill="#000"/>
<rect x="896" y="174" width="1" height="5" fill="#00ff00"/>
<rect x="900" y="173" width="1" height="8" fill="#000"/>
<rect x="899" y="174" width="3" height="3" fill="#000"/>
<rect x="900" y="175" width="1" height="1" fill="#ff0000"/>
<rect x="904" y="159" width="1" height="21" fill="#000"/>
<rect x="903" y="167" width="3" height="10" fill="#000"/>
<rect x="904" y="168" width="1" height="8" fill="#00ff00"/>
<rect x="908" y="134" width="1" height="37" fill="#000"/>
<rect x="907" y="134" width="3" height="33" fill="#000"/>
<rect x="908" y="135" width="1" height="31" fill="#00ff00"/>
<rect x="912" y="87" width="1" height="50" fill="#000"/>
<rect x="911" y="103" width="3" height="30" fill="#000"/>
<rect x="912" y="104" width="1" height="28" fill="#00ff00"/>
<rect x="916" y="83" width="1" height="26" fill="#000"/>
<rect x="915" y="101" width="3" height="1" fill="#000"/>
<rect x="920" y="86" width="1" height="21" fill="#000"/>
<rect x="919" y="92" width="3" height="9" fill="#000"/>
<rect x="920" y="93" width="1" height="7" fill="#00ff00"/>
<rect x="924" y="72" width="1" height="19" fill="#000"/>
<rect x="923" y="73" width="3" height="18" fill="#000"/>
<rect x="924" y="74" width="1" height="16" fill="#00ff00"/>
<rect x="928" y="59" width="1" height="21" fill="#000"/>
<rect x="927" y="59" width="3" height="16" fill="#000"/>
<rect x="928" y="60" width="1" height="14" fill="#00ff00"/>
<rect x="932" y="37" width="1" height="30" fill="#000"/>
<rect x="931" y="60" width="3" height="6" fill="#000"/>
<rect x="932" y="61" width="1" height="4" fill="#00ff00"/>
<rect x="936" y="48" width="1" height="19" fill="#000"/>
<rect x="935" y="48" width="3" height="10" fill="#000"/>
<rect x="936" y="49" width="1" height="8" fill="#00ff00"/>
<rect x="940" y="41" width="1" height="22" fill="#000"/>
<rect x="939" y="41" width="3" height="6" fill="#000"/>
<rect x="940" y="42" width="1" height="4" fill="#00ff00"/>
<rect x="944" y="32" width="1" height="21" fill="#000"/>
<rect x="943" y="40" width="3" height="2" fill="#000"/>
<rect x="948" y="22" width="1" height="20" fill="#000"/>
<rect x="947" y="24" width="3" height="16" fill="#000"/>
<rect x="948" y="25" width="1" height="14" fill="#00ff00"/>
<rect x="952" y="12" width="1" height="61" fill="#000"/>
<rect x="951" y="25" width="3" height="47" fill="#000"/>
<rect x="952" y="26" width="1" height="45" fill="#ff0000"/>
<rect x="956" y="59" width="1" height="15" fill="#000"/>
<rect x="955" y="71" width="3" height="1" fill="#000"/>
<rect x="960" y="39" width="1" height="37" fill="#000"/>
<rect x="959" y="39" width="3" height="36" fill="#000"/>
<rect x="960" y="40" width="1" height="34" fill="#00ff00"/>
<rect x="964" y="39" width="1" height="17" fill="#000"/>
<rect x="963" y="39" width="3" height="13" fill="#000"/>
<rect x="964" y="40" width="1" height="11" fill="#ff0000"/>
<rect x="968" y="28" width="1" height="36" fill="#000"/>
<rect x="967" y="31" width="3" height="21" fill="#000"/>
<rect x="968" y="32" width="1" height="19" fill="#00ff00"/>
<rect x="972" y="23" width="1" height="18" fill="#000"/>
<rect x="971" y="30" width="3" height="6" fill="#000"/>
<rect x="972" y="31" width="1" height="4" fill="#ff0000"/>
<rect x="976" y="36" width="1" height="32" fill="#000"/>
<rect x="975" y="38" width="3" height="25" fill="#000"/>
<rect x="976" y="39" width="1" height="23" fill="#ff0000"/>
<rect x="980" y="46" width="1" height="24" fill="#000"/>
<rect x="979" y="46" width="3" height="18" fill="#000"/>
<rect x="980" y="47" width="1" height="16" fill="#00ff00"/>
<rect x="984" y="44" width="1" height="50" fill="#000"/>
<rect x="983" y="44" width="3" height="17" fill="#000"/>
<rect x="984" y="45" width="1" height="15" fill="#ff0000"/>
<rect x="988" y="19" width="1" height="45" fill="#000"/>
<rect x="987" y="38" width="3" height="22" fill="#000"/>
<rect x="988" y="39" width="1" height="20" fill="#00ff00"/>
</g>
<polyline fill="none" stroke="#008800" stroke-width="1" shape-rendering="crispEdges" points="5.5,717.5 8.5,717.5 12.5,714.5 16.5,709.5 20.5,703.5 24.5,695.5 28.5,683.5 32.5,676.5 36.5,676.5 40.5,672.5 44.5,666.5 48.5,665.5 52.5,666.5 56.5,672.5 60.5,677.5 64.5,678.5 68.5,684.5 72.5,698.5 76.5,713.5 80.5,718.5 84.5,716.5 88.5,727.5 92.5,721.5 96.5,711.5 100.5,709.5 104.5,713.5 108.5,721.5 112.5,722.5 116.5,738.5 120.5,746.5 124.5,747.5 128.5,745.5 132.5,744.5 136.5,740.5 140.5,728.5 144.5,719.5 148.5,703.5 152.5,694.5 156.5,684.5 160.5,676.5 164.5,674.5 168.5,673.5 172.5,672.5 176.5,666.5 180.5,662.5 184.5,661.5 188.5,659.5 192.5,658.5 196.5,658.5 200.5,658.5 204.5,657.5 208.5,658.5 212.5,658.5 216.5,656.5 220.5,660.5 224.5,664.5 228.5,663.5 232.5,663.5 236.5,663.5 240.5,668.5 244.5,669.5 248.5,671.5 252.5,677.5 256.5,685.5 260.5,697.5 264.5,706.5 268.5,713.5 272.5,718.5 276.5,718.5 280.5,718.5 284.5,716.5 288.5,714.5 292.5,716.5 296.5,722.5 300.5,731.5 304.5,738.5 308.5,741.5 312.5,742.5 316.5,740.5 320.5,731.5 324.5,718.5 328.5,704.5 332.5,690.5 336.5,676.5 340.5,672.5 344.5,668.5 348.5,672.5 352.5,676.5 356.5,678.5 360.5,687.5 364.5,683.5 368.5,689.5 372.5,699.5 376.5,708.5 380.5,714.5 384.5,712.5 388.5,705.5 392.5,695.5 396.5,685.5 400.5,671.5 404.5,665.5 408.5,664.5 412.5,666.5 416.5,665.5 420.5,661.5 424.5,659.5 428.5,659.5 432.5,656.5 436.5,655.5 440.5,660.5 444.5,663.5 448.5,667.5 452.5,665.5 456.5,665.5 460.5,663.5 464.5,660.5 468.5,658.5 472.5,656.5 476.5,663.5 480.5,672.5 484.5,684.5 488.5,699.5 492.5,714.5 496.5,728.5 500.5,736.5 504.5,743.5 508.5,745.5 512.5,737.5 516.5,729.5 520.5,721.5 524.5,710.5 528.5,696.5 532.5,682.5 536.5,674.5 540.5,665.5 544.5,658.5 548.5,660.5 552.5,664.5 556.5,667.5 560.5,671.5 564.5,678.5 568.5,685.5 572.5,693.5 576.5,704.5 580.5,720.5 584.5,727.5 588.5,730.5 592.5,731.5 596.5,722.5 600.5,722.5 604.5,715.5 608.5,710.5 612.5,704.5 616.5,703.5 620.5,697.5 624.5,685.5 628.5,675.5 632.5,671.5 636.5,669.5 640.5,667.5 644.5,674.5 648.5,673.5 652.5,678.5 656.5,672.5 660.5,673.5 664.5,681.5 668.5,690.5 672.5,701.5 676.5,714.5 680.5,723.5 684.5,727.5 688.5,727.5 692.5,727.5 696.5,723.5 700.5,713.5 704.5,709.5 708.5,713.5 712.5,716.5 716.5,718.5 720.5,717.5 724.5,720.5 728.5,719.5 732.5,715.5 736.5,712.5 740.5,711.5 744.5,720.5 748.5,724.5 752.5,735.5 756.5,743.5 760.5,743.5 764.5,741.5 768.5,736.5 772.5,731.5 776.5,721.5 780.5,706.5 784.5,697.5 788.5,687.5 792.5,683.5 796.5,681.5 800.5,687.5 804.5,689.5 808.5,684.5 812.5,684.5 816.5,679.5 820.5,672.5 824.5,662.5 828.5,660.5 832.5,671.5 836.5,679.5 840.5,688.5 844.5,703.5 848.5,715.5 852.5,729.5 856.5,736.5 860.5,740.5 864.5,739.5 868.5,737.5 872.5,733.5 876.5,723.5 880.5,724.5 884.5,719.5 888.5,705.5 892.5,693.5 896.5,680.5 900.5,678.5 904.5,663.5 908.5,655.5 912.5,656.5 916.5,657.5 920.5,657.5 924.5,656.5 928.5,655.5 932.5,658.5 936.5,658.5 940.5,656.5 944.5,656.5 948.5,657.5 952.5,667.5 956.5,678.5 960.5,685.5 964.5,695.5 968.5,699.5 972.5,706.5 976.5,709.5 980.5,704.5 984.5,709.5 988.5,701.5"/>
<polyline fill="none" stroke="#ff0000" stroke-width="1" shape-rendering="crispEdges" points="5.5,718.5 8.5,717.5 12.5,716.5 16.5,714.5 20.5,712.5 24.5,709.5 28.5,704.5 32.5,697.5 36.5,690.5 40.5,684.5 44.5,677.5 48.5,672.5 52.5,670.5 56.5,669.5 60.5,669.5 64.5,670.5 68.5,674.5 72.5,681.5 76.5,688.5 80.5,695.5 84.5,703.5 88.5,710.5 92.5,715.5 96.5,717.5 100.5,716.5 104.5,716.5 108.5,717.5 112.5,716.5 116.5,720.5 120.5,726.5 124.5,731.5 128.5,737.5 132.5,741.5 136.5,743.5 140.5,742.5 144.5,737.5 148.5,728.5 152.5,720.5 156.5,709.5 160.5,699.5 164.5,691.5 168.5,684.5 172.5,679.5 176.5,675.5 180.5,671.5 184.5,668.5 188.5,665.5 192.5,663.5 196.5,662.5 200.5,660.5 204.5,659.5 208.5,659.5 212.5,658.5 216.5,658.5 220.5,658.5 224.5,659.5 228.5,661.5 232.5,662.5 236.5,662.5 240.5,663.5 244.5,665.5 248.5,666.5 252.5,669.5 256.5,673.5 260.5,678.5 264.5,684.5 268.5,692.5 272.5,699.5 276.5,706.5 280.5,712.5 284.5,715.5 288.5,716.5 292.5,717.5 296.5,717.5 300.5,720.5 304.5,724.5 308.5,728.5 312.5,732.5 316.5,736.5 320.5,738.5 324.5,737.5 328.5,730.5 332.5,721.5 336.5,710.5 340.5,697.5 344.5,688.5 348.5,681.5 352.5,676.5 356.5,673.5 360.5,675.5 364.5,678.5 368.5,681.5 372.5,687.5 376.5,693.5 380.5,698.5 384.5,702.5 388.5,705.5 392.5,705.5 396.5,703.5 400.5,696.5 404.5,688.5 408.5,681.5 412.5,675.5 416.5,670.5 420.5,665.5 424.5,664.5 428.5,663.5 432.5,661.5 436.5,659.5 440.5,658.5 444.5,659.5 448.5,660.5 452.5,662.5 456.5,663.5 460.5,664.5 464.5,664.5 468.5,663.5 472.5,662.5 476.5,661.5 480.5,663.5 484.5,666.5 488.5,672.5 492.5,682.5 496.5,694.5 500.5,704.5 504.5,717.5 508.5,726.5 512.5,733.5 516.5,736.5 520.5,735.5 524.5,729.5 528.5,722.5 532.5,712.5 536.5,701.5 540.5,690.5 544.5,681.5 548.5,672.5 552.5,667.5 556.5,665.5 560.5,664.5 564.5,666.5 568.5,671.5 572.5,676.5 576.5,684.5 580.5,693.5 584.5,701.5 588.5,710.5 592.5,718.5 596.5,722.5 600.5,725.5 604.5,724.5 608.5,722.5 612.5,717.5 616.5,713.5 620.5,709.5 624.5,701.5 628.5,695.5 632.5,688.5 636.5,682.5 640.5,677.5 644.5,674.5 648.5,672.5 652.5,672.5 656.5,672.5 660.5,673.5 664.5,674.5 668.5,678.5 672.5,682.5 676.5,688.5 680.5,697.5 684.5,706.5 688.5,714.5 692.5,720.5 696.5,724.5 700.5,723.5 704.5,721.5 708.5,719.5 712.5,717.5 716.5,715.5 720.5,714.5 724.5,715.5 728.5,717.5 732.5,717.5 736.5,717.5 740.5,716.5 744.5,716.5 748.5,717.5 752.5,719.5 756.5,724.5 760.5,729.5 764.5,735.5 768.5,737.5 772.5,738.5 776.5,736.5 780.5,729.5 784.5,721.5 788.5,712.5 792.5,703.5 796.5,696.5 800.5,690.5 804.5,687.5 808.5,685.5 812.5,685.5 816.5,684.5 820.5,683.5 824.5,679.5 828.5,675.5 832.5,672.5 836.5,671.5 840.5,671.5 844.5,676.5 848.5,685.5 852.5,697.5 856.5,709.5 860.5,719.5 864.5,727.5 868.5,733.5 872.5,736.5 876.5,735.5 880.5,733.5 884.5,729.5 888.5,722.5 892.5,714.5 896.5,706.5 900.5,698.5 904.5,688.5 908.5,679.5 912.5,671.5 916.5,665.5 920.5,661.5 924.5,657.5 928.5,656.5 932.5,658.5 936.5,658.5 940.5,657.5 944.5,657.5 948.5,657.5 952.5,659.5 956.5,662.5 960.5,667.5 964.5,673.5 968.5,681.5 972.5,688.5 976.5,695.5 980.5,699.5 984.5,703.5 988.5,705.5"/>
<g stroke="#0c8c0c" stroke-width="1.9" fill="none" stroke-linecap="round">
<path d="M435.5 158.7 L462.0 178.0"/>
<path d="M450.0 158.7 L462.0 178.0"/>
<path d="M438.7 172.5 L462.0 178.0"/>
<path d="M408.0 208.0 L433.7 228.0"/>
<path d="M422.5 208.0 L433.7 228.0"/>
<path d="M412.0 223.0 L433.7 228.0"/>
<path d="M410.0 348.0 L387.5 344.5"/>
<path d="M412.5 360.5 L387.5 344.5"/>
<path d="M399.5 363.0 L387.5 344.5"/>
</g>
<text x="297.0" y="80" textLength="133.0" lengthAdjust="spacingAndGlyphs" style="font-weight:bold;font-size:27.5px;stroke:#000;stroke-width:1.6px;stroke-linejoin:round">Gesamt:</text>
<text x="439.0" y="80" textLength="103.5" lengthAdjust="spacingAndGlyphs" style="font-weight:bold;font-size:27.5px;stroke:#000;stroke-width:1.6px;stroke-linejoin:round">+1,676</text>
<text x="554.5" y="80" textLength="21.6" lengthAdjust="spacingAndGlyphs" style="font-weight:bold;font-size:27.5px;stroke:#000;stroke-width:1.6px;stroke-linejoin:round">R</text>
<text x="585.7" y="80" textLength="26.3" lengthAdjust="spacingAndGlyphs" style="font-weight:bold;font-size:27.5px;stroke:#000;stroke-width:1.6px;stroke-linejoin:round">/+</text>
<text x="623.9" y="80" textLength="84.1" lengthAdjust="spacingAndGlyphs" style="font-weight:bold;font-size:27.5px;stroke:#000;stroke-width:1.6px;stroke-linejoin:round">62,00</text>
<text x="720.5" y="80" textLength="108.3" lengthAdjust="spacingAndGlyphs" style="font-weight:bold;font-size:27.5px;stroke:#000;stroke-width:1.6px;stroke-linejoin:round">Punkte</text>
<circle cx="6.3" cy="639.6" r="2.3" fill="none" stroke="#000" stroke-width="1"/><rect x="5.5" y="639" width="1.5" height="1.5" fill="#000"/>
<text x="12" y="642.8" textLength="47" lengthAdjust="spacingAndGlyphs" style="font-size:8.7px;stroke:#000;stroke-width:0.3px">eSignal, 2016</text>
<text class="n" x="1.5" y="9.6" textLength="39.1" lengthAdjust="spacingAndGlyphs" fill="#000" stroke="#000">($INDU</text>
<text class="n" x="47.5" y="9.6" textLength="4.5" lengthAdjust="spacingAndGlyphs" fill="#000" stroke="#000">-</text>
<text class="n" x="55.6" y="9.6" textLength="77.1" lengthAdjust="spacingAndGlyphs" fill="#000" stroke="#000">DOW-JONES</text>
<text class="n" x="138.7" y="9.6" textLength="85.0" lengthAdjust="spacingAndGlyphs" fill="#000" stroke="#000">INDUSTRIALS</text>
<text class="n" x="229.4" y="9.6" textLength="11.8" lengthAdjust="spacingAndGlyphs" fill="#000" stroke="#000">30</text>
<text class="n" x="248.5" y="9.6" textLength="43.0" lengthAdjust="spacingAndGlyphs" fill="#000" stroke="#000">STOCK</text>
<text class="n" x="296.2" y="9.6" textLength="22.8" lengthAdjust="spacingAndGlyphs" fill="#000" stroke="#000">A,1)</text>
<text class="n" x="324.7" y="9.6" textLength="57.2" lengthAdjust="spacingAndGlyphs" fill="#000" stroke="#000">Dynamic,</text>
<text class="n" x="383.0" y="9.6" textLength="28.9" lengthAdjust="spacingAndGlyphs" fill="#000" stroke="#000">Auto</text>
<text class="n" x="412.5" y="9.6" textLength="75.0" lengthAdjust="spacingAndGlyphs" fill="#000" stroke="#000">(15:30-22:00)</text>
<text class="b" x="312.5" y="135.0" textLength="122.0" lengthAdjust="spacingAndGlyphs" fill="#000">+1 R / +37 Punkte</text>
<text class="b" x="329.0" y="151.5" textLength="116.5" lengthAdjust="spacingAndGlyphs" fill="#008000">RestStopp 25731</text>
<text class="b" x="260.5" y="183.0" textLength="149.5" lengthAdjust="spacingAndGlyphs" fill="#000">+0,676 R / +25 Punkte</text>
<text class="b" x="269.0" y="199.0" textLength="146.5" lengthAdjust="spacingAndGlyphs" fill="#008000">1/2 Teilverkauf 25707</text>
<text class="n" x="468.0" y="174.0" textLength="35.0" lengthAdjust="spacingAndGlyphs" fill="#000" stroke="#000">25734</text>
<text class="n" x="216.0" y="292.0" textLength="34.5" lengthAdjust="spacingAndGlyphs" fill="#000" stroke="#000">25670</text>
<text class="n" x="612.5" y="134.1" textLength="34.5" lengthAdjust="spacingAndGlyphs" fill="#000" stroke="#000">25752</text>
<text class="n" x="760.5" y="202.0" textLength="34.5" lengthAdjust="spacingAndGlyphs" fill="#000" stroke="#000">25718</text>
<text class="n" x="96.0" y="492.0" textLength="34.5" lengthAdjust="spacingAndGlyphs" fill="#000" stroke="#000">25584</text>
<text class="b" x="729.5" y="167.2" textLength="84.2" lengthAdjust="spacingAndGlyphs" fill="#ff00ff">Stopp 25736</text>
<text class="b" x="409.5" y="381.0" textLength="114.2" lengthAdjust="spacingAndGlyphs" fill="#008000">Stopp Buy 25657</text>
<text class="b" x="528.7" y="381.0" textLength="118.0" lengthAdjust="spacingAndGlyphs" fill="#008000">RestStopp 25657</text>
<text class="b" x="377.5" y="414.5" textLength="83.5" lengthAdjust="spacingAndGlyphs" fill="#008000">Stopp 25620</text>
<text class="b" x="217.0" y="457.0" textLength="148.7" lengthAdjust="spacingAndGlyphs" fill="#000">+1,676 R / +62 Punkte</text>
<text class="n" x="256.0" y="477.0" textLength="50.0" lengthAdjust="spacingAndGlyphs" fill="#000" stroke="#000">2. Trade</text>
<text class="b" x="237.5" y="495.5" textLength="84.2" lengthAdjust="spacingAndGlyphs" fill="#008000">Stopp 25620</text>
<text class="b" x="237.5" y="513.0" textLength="84.2" lengthAdjust="spacingAndGlyphs" fill="#008000">Stopp 25620</text>
<text class="n" x="232.5" y="537.5" textLength="85.0" lengthAdjust="spacingAndGlyphs" fill="#000" stroke="#000">1R=37 Punkte</text>
<text class="n" x="232.5" y="553.7" textLength="58.0" lengthAdjust="spacingAndGlyphs" fill="#000" stroke="#000">1R: 25694</text>
<text class="n" x="232.5" y="569.5" textLength="58.0" lengthAdjust="spacingAndGlyphs" fill="#000" stroke="#000">2R: 25731</text>
<text class="n" x="232.5" y="585.5" textLength="58.0" lengthAdjust="spacingAndGlyphs" fill="#000" stroke="#000">3R: 25768</text>
<text class="n" x="232.5" y="601.0" textLength="58.0" lengthAdjust="spacingAndGlyphs" fill="#000" stroke="#000">4R: 25805</text>
<text class="nb" x="136.0" y="543.7" textLength="18.5" lengthAdjust="spacingAndGlyphs" fill="#000">0R</text>
<text class="n" x="120.5" y="566.0" textLength="50.0" lengthAdjust="spacingAndGlyphs" fill="#000" stroke="#000">1. Trade</text>
<text class="b" x="104.0" y="592.5" textLength="101.0" lengthAdjust="spacingAndGlyphs" fill="#008000">Einstieg 25649</text>
<text class="b" x="105.5" y="613.0" textLength="84.0" lengthAdjust="spacingAndGlyphs" fill="#008000">Stopp 25549</text>
<text class="b" x="320.5" y="556.0" textLength="146.5" lengthAdjust="spacingAndGlyphs" fill="#008000">1/2 Teilverkauf 25707</text>
<text class="b" x="317.0" y="576.0" textLength="149.0" lengthAdjust="spacingAndGlyphs" fill="#000">+0,676 R / +25 Punkte</text>
<text class="b" x="328.7" y="594.0" textLength="116.8" lengthAdjust="spacingAndGlyphs" fill="#008000">RestStopp 25731</text>
<text class="b" x="317.0" y="613.0" textLength="121.0" lengthAdjust="spacingAndGlyphs" fill="#000">+1 R / +37 Punkte</text>
<text class="n" x="572.0" y="446.7" textLength="50.5" lengthAdjust="spacingAndGlyphs" fill="#000" stroke="#000">3. Trade</text>
<text class="b" x="553.0" y="467.5" textLength="115.7" lengthAdjust="spacingAndGlyphs" fill="#ff0000">Stopp Sell 25712</text>
<text class="b" x="553.0" y="486.7" textLength="84.5" lengthAdjust="spacingAndGlyphs" fill="#ff0000">Stopp 25850</text>
<text class="b" x="552.0" y="506.7" textLength="104.7" lengthAdjust="spacingAndGlyphs" fill="#ff0000">Ausstieg 25710</text>
<text class="n" x="552.5" y="531.5" textLength="96.2" lengthAdjust="spacingAndGlyphs" fill="#000" stroke="#000">1R=-138 Punkte</text>
<text class="n" x="552.5" y="548.5" textLength="58.0" lengthAdjust="spacingAndGlyphs" fill="#000" stroke="#000">1R: 25574</text>
<text class="n" x="552.5" y="564.2" textLength="58.0" lengthAdjust="spacingAndGlyphs" fill="#000" stroke="#000">2R: 25436</text>
<text class="n" x="552.5" y="580.0" textLength="58.0" lengthAdjust="spacingAndGlyphs" fill="#000" stroke="#000">3R: 25298</text>
<text class="n" x="552.5" y="595.5" textLength="58.0" lengthAdjust="spacingAndGlyphs" fill="#000" stroke="#000">4R: 25160</text>
<text class="n" x="2.0" y="663.8" textLength="105.0" lengthAdjust="spacingAndGlyphs" fill="#009800" stroke="#009800" style="font-size:13.6px;stroke-width:0.4px">Stochastic(9(6),6)</text>
<text class="n" x="1092.5" y="11.9" textLength="52.0" lengthAdjust="spacingAndGlyphs" fill="#000" stroke="#000">25820.00</text>
<text class="n" x="1092.5" y="51.9" textLength="52.0" lengthAdjust="spacingAndGlyphs" fill="#000" stroke="#000">25800.00</text>
<text class="n" x="1092.5" y="91.9" textLength="52.0" lengthAdjust="spacingAndGlyphs" fill="#000" stroke="#000">25780.00</text>
<text class="n" x="1092.5" y="131.9" textLength="52.0" lengthAdjust="spacingAndGlyphs" fill="#000" stroke="#000">25760.00</text>
<text class="n" x="1092.5" y="171.9" textLength="52.0" lengthAdjust="spacingAndGlyphs" fill="#000" stroke="#000">25740.00</text>
<text class="n" x="1092.5" y="210.9" textLength="52.0" lengthAdjust="spacingAndGlyphs" fill="#000" stroke="#000">25720.00</text>
<text class="n" x="1092.5" y="250.9" textLength="52.0" lengthAdjust="spacingAndGlyphs" fill="#000" stroke="#000">25700.00</text>
<text class="n" x="1092.5" y="290.9" textLength="52.0" lengthAdjust="spacingAndGlyphs" fill="#000" stroke="#000">25680.00</text>
<text class="n" x="1092.5" y="330.9" textLength="52.0" lengthAdjust="spacingAndGlyphs" fill="#000" stroke="#000">25660.00</text>
<text class="n" x="1092.5" y="370.9" textLength="52.0" lengthAdjust="spacingAndGlyphs" fill="#000" stroke="#000">25640.00</text>
<text class="n" x="1092.5" y="410.9" textLength="52.0" lengthAdjust="spacingAndGlyphs" fill="#000" stroke="#000">25620.00</text>
<text class="n" x="1092.5" y="450.9" textLength="52.0" lengthAdjust="spacingAndGlyphs" fill="#000" stroke="#000">25600.00</text>
<text class="n" x="1092.5" y="489.9" textLength="52.0" lengthAdjust="spacingAndGlyphs" fill="#000" stroke="#000">25580.00</text>
<text class="n" x="1092.5" y="529.9" textLength="52.0" lengthAdjust="spacingAndGlyphs" fill="#000" stroke="#000">25560.00</text>
<text class="n" x="1092.5" y="569.9" textLength="52.0" lengthAdjust="spacingAndGlyphs" fill="#000" stroke="#000">25540.00</text>
<text class="n" x="1092.5" y="609.9" textLength="52.0" lengthAdjust="spacingAndGlyphs" fill="#000" stroke="#000">25520.00</text>
<text class="n" x="1092.5" y="649.9" textLength="52.0" lengthAdjust="spacingAndGlyphs" fill="#000" stroke="#000">25500.00</text>
<text class="n" x="1092.5" y="663.6" textLength="19.5" lengthAdjust="spacingAndGlyphs" fill="#000" stroke="#000">100</text>
<text class="n" x="1092.5" y="754.3" textLength="6.0" lengthAdjust="spacingAndGlyphs" fill="#000" stroke="#000">0</text>
<text class="nb" x="32.5" y="771.3" textLength="31.0" lengthAdjust="spacingAndGlyphs" fill="#000">18:00</text>
<text class="nb" x="152.5" y="771.3" textLength="31.0" lengthAdjust="spacingAndGlyphs" fill="#000">18:30</text>
<text class="nb" x="272.5" y="771.3" textLength="31.0" lengthAdjust="spacingAndGlyphs" fill="#000">19:00</text>
<text class="nb" x="392.5" y="771.3" textLength="31.0" lengthAdjust="spacingAndGlyphs" fill="#000">19:30</text>
<text class="nb" x="512.5" y="771.3" textLength="31.0" lengthAdjust="spacingAndGlyphs" fill="#000">20:00</text>
<text class="nb" x="632.5" y="771.3" textLength="31.0" lengthAdjust="spacingAndGlyphs" fill="#000">20:30</text>
<text class="nb" x="752.5" y="771.3" textLength="31.0" lengthAdjust="spacingAndGlyphs" fill="#000">21:00</text>
<text class="nb" x="872.5" y="771.3" textLength="31.0" lengthAdjust="spacingAndGlyphs" fill="#000">21:30</text>
<rect shape-rendering="crispEdges" x="1092" y="30" width="53" height="16" fill="#00ff00"/>
<rect shape-rendering="crispEdges" x="1092" y="693" width="25" height="4" fill="#009000"/>
<rect shape-rendering="crispEdges" x="1092" y="696" width="32" height="16" fill="#ff0000"/>
<text class="n" x="1092.5" y="42.9" textLength="52" lengthAdjust="spacingAndGlyphs" fill="#fff" stroke="#fff">25804.53</text>
<text class="n" x="1092.5" y="709.5" textLength="31" lengthAdjust="spacingAndGlyphs" fill="#fff" stroke="#fff">49.34</text>
</svg></body></html>
